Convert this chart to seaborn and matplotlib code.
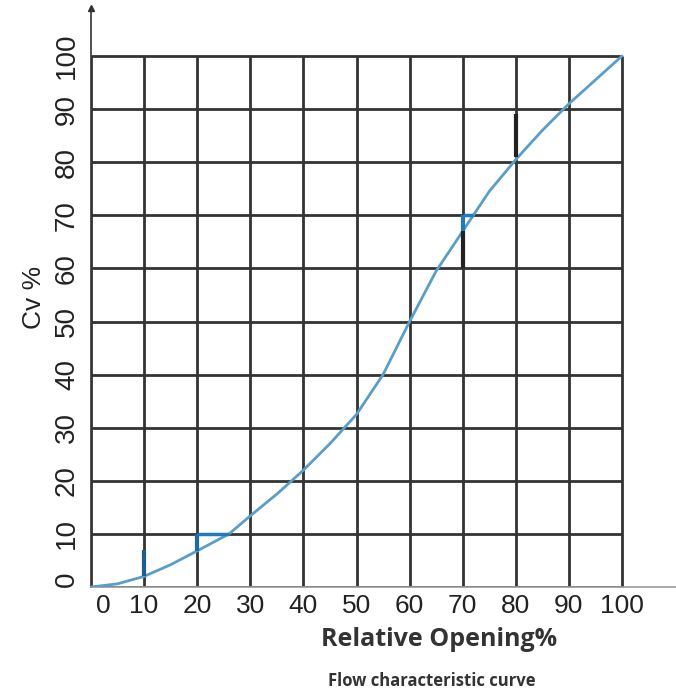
# flow characteristic curve
import matplotlib
matplotlib.use("Agg")
import matplotlib.pyplot as plt
import matplotlib.transforms as mtransforms
import seaborn as sns
import numpy as np
import pandas as pd

sns.set_style("white")
plt.rcParams['font.family'] = ['Liberation Sans', 'DejaVu Sans']

# curve
opening = [0, 5, 10, 15, 20, 26, 30, 35, 40, 45, 50, 55, 60, 65, 70, 72, 75, 80, 85, 90, 95, 100]
cv = [0, 0.6, 2, 4.2, 6.8, 10, 13.4, 17.5, 22, 27, 32.5, 40, 50, 59.5, 67, 70, 74.5, 80.5, 86, 91, 95.5, 100]
ticks = [0, 10, 20, 30, 40, 50, 60, 70, 80, 90, 100]

# short stray strokes on the scan (x, y from, y to)
tick_x = [10, 20, 70, 70, 80]
tick_y0 = [2, 6.8, 60, 67, 81]
tick_y1 = [7, 10, 67, 70, 89]
tick_c = ['#1f5f8f', '#1f6aa5', '#222222', '#1f7ac0', '#222222']
# short horizontal strokes (y, x from, x to)
flat_y = [10, 70]
flat_x0 = [20, 70]
flat_x1 = [26, 72]

df = pd.DataFrame({'opening': opening, 'cv': cv})

fig = plt.figure(figsize=(6.76, 6.96), dpi=100)
ax = fig.add_axes([91 / 676, 109 / 696, 585 / 676, 579 / 696])

# grid only inside 0..100
ax.hlines(ticks, 0, 100, color='#333333', linewidth=2, zorder=1)
ax.vlines(ticks, 0, 100, color='#333333', linewidth=2, zorder=1)

sns.lineplot(data=df, x='opening', y='cv', color='#5a9ec8', linewidth=2, ax=ax, zorder=3)

ax.vlines(tick_x, tick_y0, tick_y1, colors=tick_c, linewidth=3, zorder=4)
ax.hlines(flat_y, flat_x0, flat_x1, colors='#1f7ac0', linewidth=2.5, zorder=4)

ax.set_xlim(0, 585 / 5.31)
ax.set_ylim(0, 579 / 5.31)
ax.set_xticks(ticks)
ax.set_yticks(ticks)
ax.set_xticklabels([str(t) for t in ticks], fontsize=19, color='#222222')
ax.set_yticklabels([str(t) for t in ticks], fontsize=20, color='#222222', rotation=90, va='center',
                   family=['Liberation Sans Narrow', 'Liberation Sans', 'DejaVu Sans'])
ax.tick_params(axis='both', length=0)
ax.tick_params(axis='x', pad=5)
ax.tick_params(axis='y', pad=8)

# the zero labels sit a little off the corner in the original
xl0 = ax.get_xticklabels()[0]
xl0.set_transform(xl0.get_transform() + mtransforms.ScaledTranslation(12 / 100, 0, fig.dpi_scale_trans))
yl0 = ax.get_yticklabels()[0]
yl0.set_transform(yl0.get_transform() + mtransforms.ScaledTranslation(0, 8 / 100, fig.dpi_scale_trans))

for s in ['top', 'right']:
    ax.spines[s].set_visible(False)
ax.spines['left'].set_color('#333333')
ax.spines['bottom'].set_color('#999999')
ax.spines['left'].set_linewidth(1.2)
ax.spines['bottom'].set_linewidth(1.2)
ax.plot(0, 1, marker='^', color='#333333', markersize=4, transform=ax.transAxes, clip_on=False)

ax.set_xlabel('')
ax.set_ylabel('Cv %', fontsize=19, color='#222222', labelpad=6,
              family=['Liberation Sans Narrow', 'Liberation Sans', 'DejaVu Sans'])

fig.text(439 / 676, 1 - 640 / 696, 'Relative Opening%', ha='center', va='center',
         fontsize=18, fontweight='bold', color='#333333', family=['Open Sans', 'DejaVu Sans'])
fig.text(432 / 676, 1 - 681 / 696, 'Flow characteristic curve', ha='center', va='center',
         fontsize=12, fontweight='bold', color='#333333', family=['Open Sans', 'DejaVu Sans'])

plt.savefig('out.png', dpi=100)
